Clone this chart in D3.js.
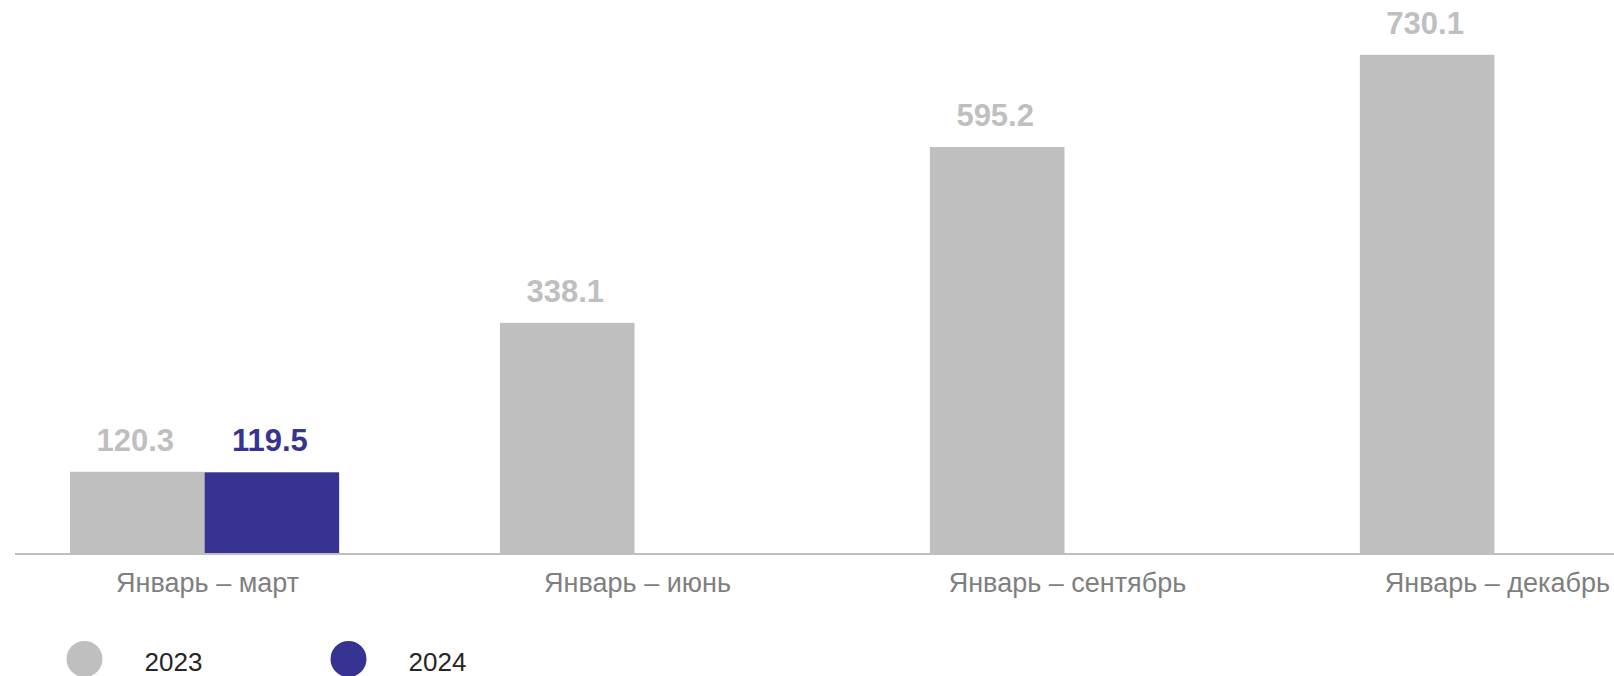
<html>
<head>
<meta charset="utf-8">
<style>
  body { margin: 0; background: #fff; }
  svg text { font-family: "Liberation Sans", Arial, sans-serif; }
  .axis text { font-size: 27px; fill: #7f7f7f; }
  .val { font-size: 31px; font-weight: bold; }
  .legend text { font-size: 26px; fill: #262626; }
</style>
</head>
<body>
<svg id="chart" width="1614" height="676"></svg>
<script src="https://d3js.org/d3.v7.min.js"></script>
<script>
var periods = ["Январь – март", "Январь – июнь", "Январь – сентябрь", "Январь – декабрь"];
var years = ["2023", "2024"];
var values2023 = [120.3, 338.1, 595.2, 730.1];
var values2024 = [119.5, null, null, null];
var colors = { "2023": "#bfbfbf", "2024": "#373393" };

var svg = d3.select("#chart"),
    width = +svg.attr("width"),
    base = 554;

var x0 = d3.scaleBand().domain(periods).range([70, 1629]).paddingInner(0.374).paddingOuter(0);
var x1 = d3.scaleBand().domain(years).range([0, x0.bandwidth()]);
var y = d3.scaleLinear().domain([0, 800]).range([base, 7]);

var rows = [];
periods.forEach(function(p, i) {
  rows.push({ period: p, year: "2023", value: values2023[i] });
  if (values2024[i] != null) rows.push({ period: p, year: "2024", value: values2024[i] });
});

svg.selectAll(".bar")
  .data(rows)
  .enter().append("rect")
  .attr("class", "bar")
  .attr("x", function(d) { return x0(d.period) + x1(d.year); })
  .attr("y", function(d) { return y(d.value); })
  .attr("width", x1.bandwidth())
  .attr("height", function(d) { return base - y(d.value); })
  .attr("fill", function(d) { return colors[d.year]; });

svg.selectAll(".val")
  .data(rows)
  .enter().append("text")
  .attr("class", "val")
  .attr("text-anchor", "middle")
  .attr("x", function(d) { return x0(d.period) + x1(d.year) + x1.bandwidth() / 2 - 2; })
  .attr("y", function(d) { return y(d.value) - 21; })
  .attr("fill", function(d) { return colors[d.year]; })
  .text(function(d) { return d.value.toFixed(1); });

// baseline
svg.append("line")
  .attr("x1", 15).attr("x2", width)
  .attr("y1", base).attr("y2", base)
  .attr("stroke", "#bfbfbf").attr("stroke-width", 2);

var axis = svg.append("g")
  .attr("class", "axis")
  .attr("transform", "translate(0," + base + ")")
  .call(d3.axisBottom(x0).tickSize(0).tickPadding(19));
axis.select(".domain").remove();
axis.selectAll("text").attr("font-family", null).attr("font-size", null).attr("dx", 3);

// legend
var legendX = [84.5, 348.5];
var legend = svg.append("g").attr("class", "legend");
var items = legend.selectAll("g")
  .data(years)
  .enter().append("g")
  .attr("transform", function(d, i) { return "translate(" + legendX[i] + ",659)"; });
items.append("circle").attr("r", 18).attr("fill", function(d) { return colors[d]; });
items.append("text").attr("x", 60).attr("y", 12).text(function(d) { return d; });
</script>
</body>
</html>
